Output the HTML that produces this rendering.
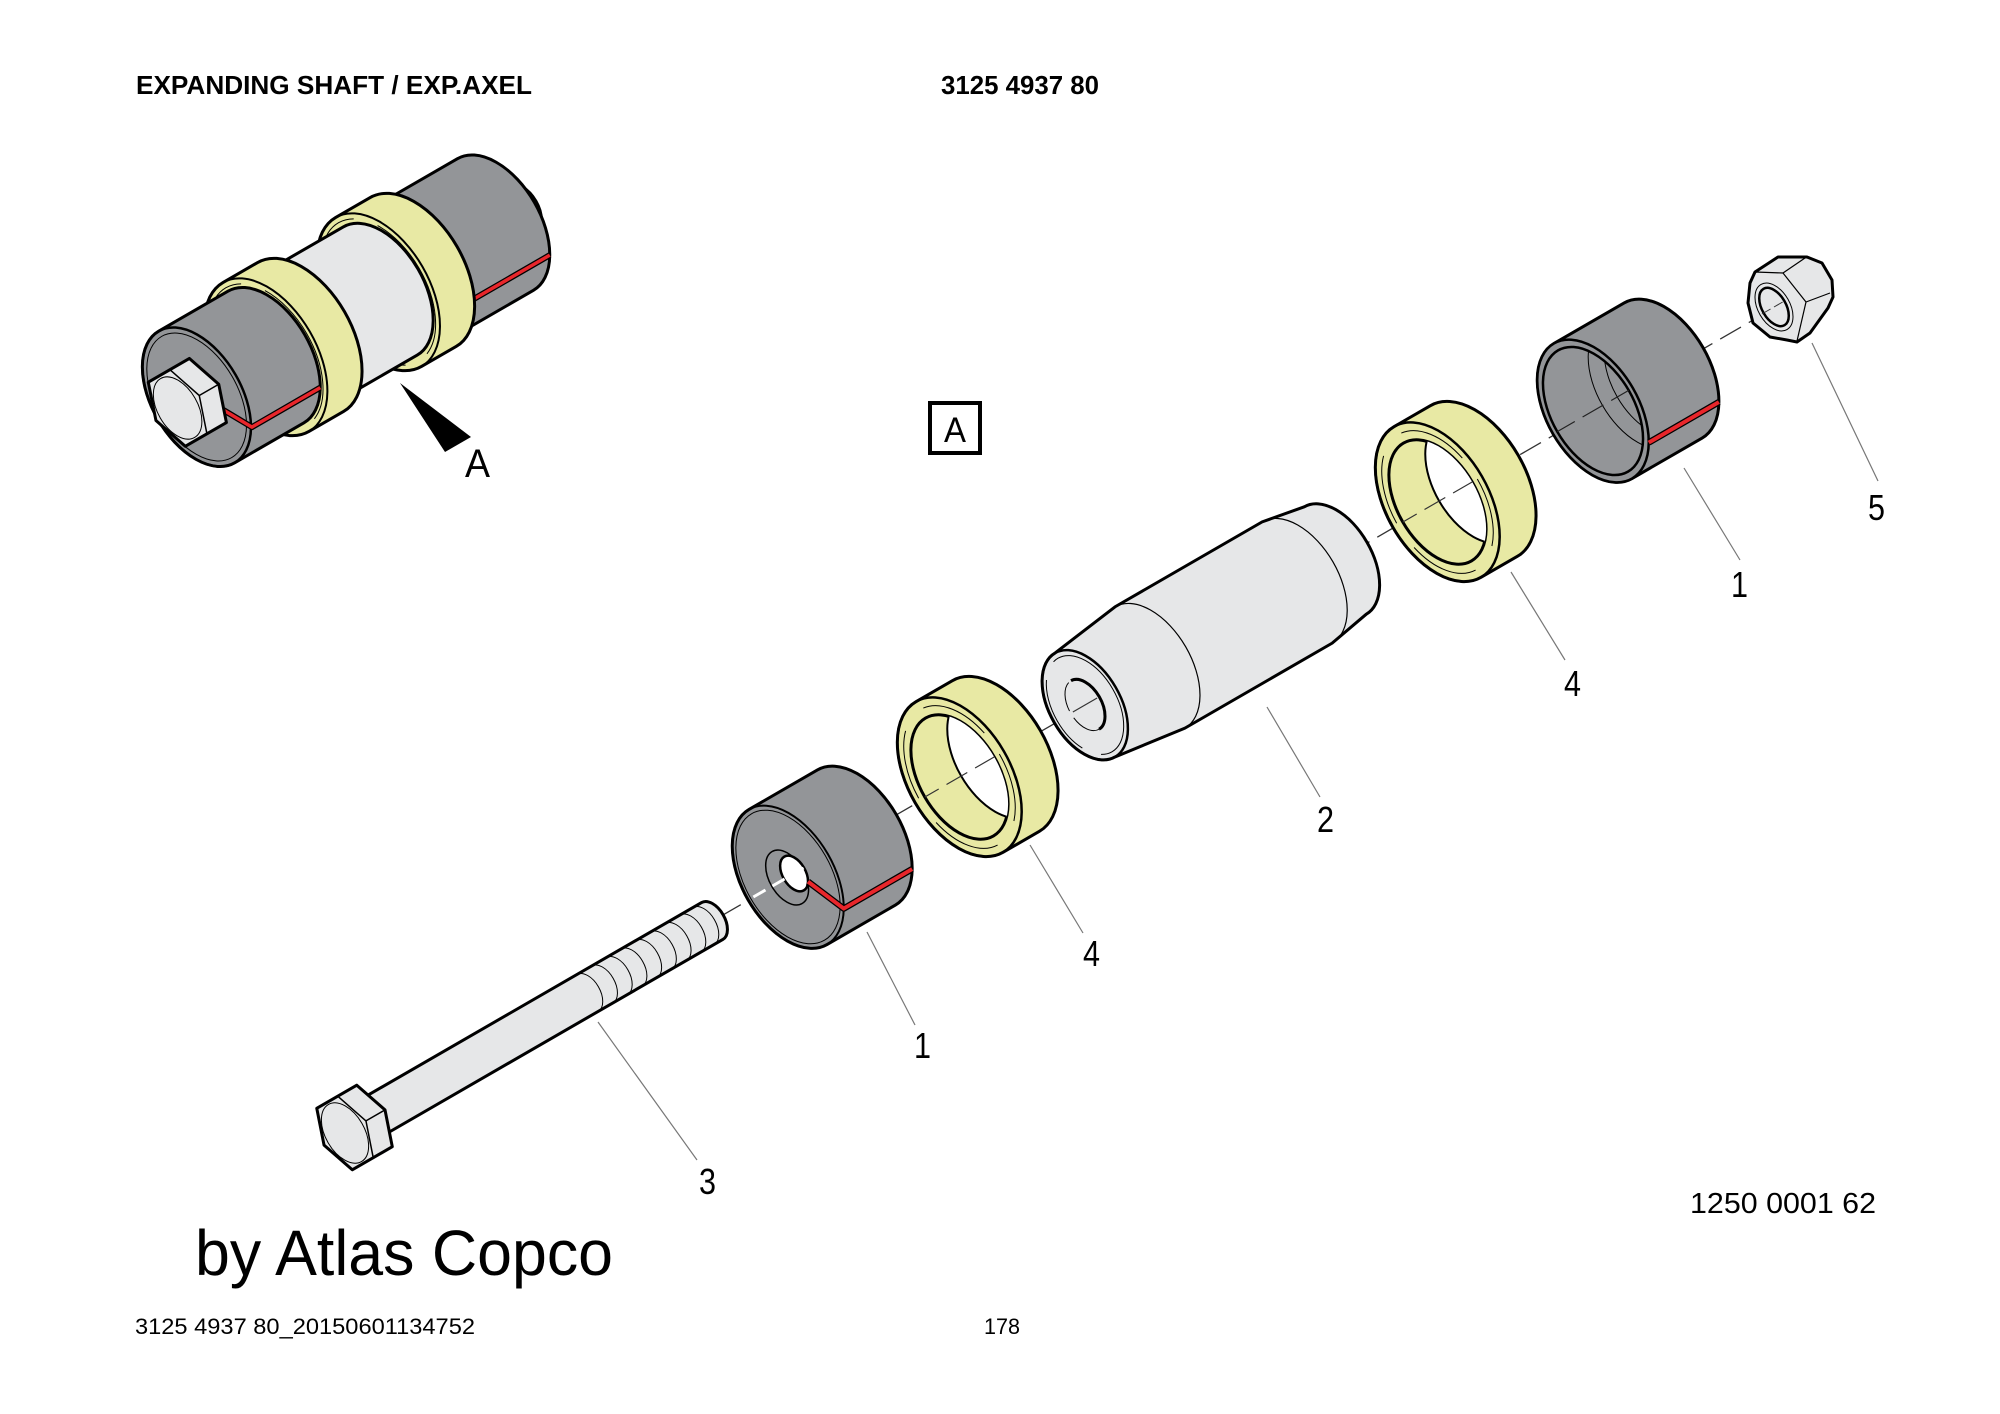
<!DOCTYPE html>
<html><head><meta charset="utf-8"><style>
html,body{margin:0;padding:0;background:#fff;}
svg{display:block;}
text{font-family:"Liberation Sans",Arial,sans-serif;fill:#000;}
</style></head><body>
<svg width="2000" height="1414" viewBox="0 0 2000 1414" xmlns="http://www.w3.org/2000/svg">
<defs>
<clipPath id="yh"><ellipse cx="0" cy="0" rx="40.1" ry="68"/></clipPath>
<clipPath id="sh"><ellipse cx="0" cy="0" rx="41.3" ry="70"/></clipPath>
</defs>
<rect width="2000" height="1414" fill="#fff"/>

<!-- header -->
<text x="136" y="94" font-size="26" font-weight="bold" textLength="396" lengthAdjust="spacingAndGlyphs">EXPANDING SHAFT / EXP.AXEL</text>
<text x="941" y="94" font-size="26" font-weight="bold" textLength="158" lengthAdjust="spacingAndGlyphs">3125 4937 80</text>

<!-- box A -->
<rect x="930" y="403" width="50" height="50" fill="none" stroke="#000" stroke-width="4"/>
<text x="944" y="442" font-size="35" textLength="22" lengthAdjust="spacingAndGlyphs">A</text>

<!-- ============ TOP-LEFT ASSEMBLY ============ -->
<g transform="translate(188,402) rotate(-30)" stroke="#000" stroke-linejoin="round">
  <!-- nut stub -->
  <path d="M350,-27 L386,-27 A16,27 0 0 1 386,27 L350,27 Z" fill="#e6e7e8" stroke-width="2.5"/>
  <path d="M372,-27 A16,27 0 0 1 372,27" fill="none" stroke-width="1"/>
  <!-- gray 2 -->
  <path d="M250,-76 L355,-76 A44.8,76 0 0 1 355,76 L250,76 Z" fill="#939598" stroke-width="3"/>
  <path d="M281.7,53.7 L386.7,53.7" stroke="#000" stroke-width="6" fill="none"/>
  <path d="M281.7,53.7 L386.7,53.7" stroke="#e8262b" stroke-width="3.5" fill="none"/>
  <!-- yellow 2 -->
  <path d="M220,-86 L260,-86 A50.7,86 0 0 1 260,86 L220,86 A50.7,86 0 0 1 220,-86 Z" fill="#e8e9a4" stroke-width="3"/>
  <ellipse cx="220" cy="0" rx="50.7" ry="86" fill="none" stroke-width="2"/>
  <ellipse cx="220" cy="0" rx="47" ry="80" fill="none" stroke-width="1" stroke-dasharray="90 25"/>
  <!-- white middle -->
  <path d="M120,-74 L222,-74 A43.7,74 0 0 1 222,74 L120,74 Z" fill="#e6e7e8" stroke-width="3"/>
  <!-- yellow 1 -->
  <path d="M90,-86 L130,-86 A50.7,86 0 0 1 130,86 L90,86 A50.7,86 0 0 1 90,-86 Z" fill="#e8e9a4" stroke-width="3"/>
  <ellipse cx="90" cy="0" rx="50.7" ry="86" fill="none" stroke-width="2"/>
  <ellipse cx="90" cy="0" rx="47" ry="80" fill="none" stroke-width="1" stroke-dasharray="90 25"/>
  <!-- gray 1 -->
  <path d="M10,-76 L90,-76 A44.8,76 0 0 1 90,76 L10,76 A44.8,76 0 0 1 10,-76 Z" fill="#939598" stroke-width="3"/>
  <ellipse cx="10" cy="0" rx="44.8" ry="76" fill="none" stroke-width="2.5"/>
  <ellipse cx="10" cy="0" rx="41" ry="70" fill="none" stroke-width="1"/>
  <path d="M26.6,24.6 L42.8,53.7 L121.7,53.7" stroke="#000" stroke-width="6" fill="none"/>
  <path d="M26.6,24.6 L42.8,53.7 L121.7,53.7" stroke="#e8262b" stroke-width="3.5" fill="none"/>
  <!-- bolt head -->
  <g transform="translate(-12,0)">
    <polygon points="-25,0 -12.5,-37 35,-37 47.5,0 35,37 -12.5,37" fill="#e6e7e8" stroke-width="3"/>
    <polygon points="25,0 12.5,37 -12.5,37 -25,0 -12.5,-37 12.5,-37" fill="none" stroke-width="1.5"/>
    <path d="M25,0 L47.5,0" stroke-width="1.5"/>
    <ellipse cx="0" cy="0" rx="20" ry="34" fill="none" stroke-width="1"/>
  </g>
</g>
<!-- arrow A -->
<polygon points="400,383 445,452 471,437" fill="#000"/>
<text x="465" y="477" font-size="40" textLength="25" lengthAdjust="spacingAndGlyphs">A</text>

<!-- ============ EXPLODED VIEW ============ -->
<!-- axis dashed -->
<path d="M720,916.7 L1800,293" stroke="#333" stroke-width="1.3" stroke-dasharray="24 9" fill="none"/>

<!-- nut 5 -->
<g stroke="#000" stroke-linejoin="round">
  <polygon points="1748,303 1750,283 1755,272 1778,257 1807,257 1822,263 1832,280 1833,297 1828,308 1810,333 1797,342 1787,340 1770,337 1753,323" fill="#e6e7e8" stroke-width="3"/>
  <polyline points="1755,272 1783,273 1806,302 1797,341" fill="none" stroke-width="1.2"/>
  <path d="M1783,273 L1805,258 M1806,302 L1830,293" fill="none" stroke-width="1.2"/>
  <g transform="translate(1774,307) rotate(-30)">
    <ellipse cx="0" cy="0" rx="16" ry="26" fill="none" stroke-width="1"/>
    <ellipse cx="0" cy="0" rx="12" ry="21" fill="#e6e7e8" stroke-width="2.5"/>
    <path d="M-14,0 L14,0" stroke="#333" stroke-width="1" stroke-dasharray="10 4"/>
  </g>
</g>

<!-- sleeve 1 (upper) -->
<g transform="translate(1593,411) rotate(-30)" stroke="#000" stroke-linejoin="round">
  <path d="M0,-78 L81,-78 A46,78 0 0 1 81,78 L0,78 A46,78 0 0 1 0,-78 Z" fill="#939598" stroke-width="3"/>
  <ellipse cx="0" cy="0" rx="46" ry="78" fill="#939598" stroke-width="2.5"/>
  <ellipse cx="0" cy="0" rx="41.3" ry="70" fill="#939598" stroke-width="2.5"/>
  <g clip-path="url(#sh)">
    <ellipse cx="52" cy="0" rx="41" ry="70" fill="none" stroke-width="1"/>
    <ellipse cx="66" cy="0" rx="38" ry="64" fill="none" stroke-width="1"/>
    <path d="M-45,0 L120,0" stroke="#222" stroke-width="1.2" stroke-dasharray="24 9"/>
  </g>
  <path d="M32.5,55.2 L113.5,55.2" stroke="#000" stroke-width="6.5" fill="none"/>
  <path d="M32.5,55.2 L113.5,55.2" stroke="#e8262b" stroke-width="4" fill="none"/>
</g>

<!-- yellow ring 4 (upper) -->
<g transform="translate(1437.5,502) rotate(-30)" stroke="#000" stroke-linejoin="round">
  <path d="M0,-87 L42,-87 A51.3,87 0 0 1 42,87 L0,87 A51.3,87 0 0 1 0,-87 Z" fill="#e8e9a4" stroke-width="3"/>
  <ellipse cx="0" cy="0" rx="51.3" ry="87" fill="none" stroke-width="2.5"/>
  <ellipse cx="0" cy="0" rx="46" ry="78" fill="none" stroke-width="1" stroke-dasharray="70 30"/>
  <ellipse cx="0" cy="0" rx="40.1" ry="68" fill="#e8e9a4" stroke-width="3"/>
  <ellipse cx="42" cy="0" rx="40.1" ry="68" fill="#fff" stroke-width="2" clip-path="url(#yh)"/>
  <path d="M-48,0 L84,0" stroke="#333" stroke-width="1.2" stroke-dasharray="24 9" clip-path="url(#yh)"/>
</g>

<!-- cylinder 2 -->
<g transform="translate(1085,705) rotate(-30)" stroke="#000" stroke-linejoin="round">
  <path d="M0,-60 L75,-70 L245,-70 L289,-62 A36.6,62 0 0 1 289,62 L245,70 L75,70 L0,60 A35.4,60 0 0 1 0,-60 Z" fill="#e6e7e8" stroke-width="3"/>
  <ellipse cx="0" cy="0" rx="35.4" ry="60" fill="none" stroke-width="2.5"/>
  <ellipse cx="0" cy="0" rx="32" ry="54" fill="none" stroke-width="1" stroke-dasharray="80 20"/>
  <path d="M75,-70 A41.3,70 0 0 1 75,70" fill="none" stroke-width="1.2"/>
  <path d="M245,-70 A41.3,70 0 0 1 245,70" fill="none" stroke-width="1.2"/>
  <path d="M0,-28 A16.5,28 0 0 1 0,28" fill="none" stroke-width="3"/>
  <path d="M0,28 A16.5,28 0 0 1 0,-28" fill="none" stroke-width="1" stroke-dasharray="30 8"/>
  <path d="M-14,0 L14,0" stroke="#333" stroke-width="1.2"/>
</g>

<!-- yellow ring 4 (lower) -->
<g transform="translate(959.5,777) rotate(-30)" stroke="#000" stroke-linejoin="round">
  <path d="M0,-87 L42,-87 A51.3,87 0 0 1 42,87 L0,87 A51.3,87 0 0 1 0,-87 Z" fill="#e8e9a4" stroke-width="3"/>
  <ellipse cx="0" cy="0" rx="51.3" ry="87" fill="none" stroke-width="2.5"/>
  <ellipse cx="0" cy="0" rx="46" ry="78" fill="none" stroke-width="1" stroke-dasharray="70 30"/>
  <ellipse cx="0" cy="0" rx="40.1" ry="68" fill="#e8e9a4" stroke-width="3"/>
  <ellipse cx="42" cy="0" rx="40.1" ry="68" fill="#fff" stroke-width="2" clip-path="url(#yh)"/>
  <path d="M-48,0 L84,0" stroke="#333" stroke-width="1.2" stroke-dasharray="24 9" clip-path="url(#yh)"/>
</g>

<!-- gray ring 1 (lower) -->
<g transform="translate(788,877) rotate(-30)" stroke="#000" stroke-linejoin="round">
  <path d="M0,-78 L79,-78 A46,78 0 0 1 79,78 L0,78 A46,78 0 0 1 0,-78 Z" fill="#939598" stroke-width="3"/>
  <ellipse cx="0" cy="0" rx="46" ry="78" fill="none" stroke-width="2"/>
  <ellipse cx="0" cy="0" rx="43" ry="73" fill="none" stroke-width="1"/>
  <ellipse cx="-1" cy="0" rx="17.7" ry="30" fill="#939598" stroke-width="1.5"/>
  <ellipse cx="7" cy="0" rx="11.5" ry="19.5" fill="#fff" stroke-width="2.5"/>
  <path d="M-40,0 L18,0" stroke="#fff" stroke-width="3" stroke-dasharray="14 8"/>
  <path d="M15,14 L32.5,55.2 L111.5,55.2" stroke="#000" stroke-width="6.5" fill="none"/>
  <path d="M15,14 L32.5,55.2 L111.5,55.2" stroke="#e8262b" stroke-width="4" fill="none"/>
</g>

<!-- bolt 3 -->
<g transform="translate(345,1133) rotate(-30)" stroke="#000" stroke-linejoin="round">
  <path d="M18,-21.3 L424,-21.3 A12.6,21.3 0 0 1 424,21.3 L18,21.3 Z" fill="#e6e7e8" stroke-width="3"/>
  <g fill="none" stroke-width="1">
    <path d="M280,-21.3 A12.6,21.3 0 0 1 280,21.3"/>
    <path d="M297,-21.3 A12.6,21.3 0 0 1 297,21.3"/>
    <path d="M314,-21.3 A12.6,21.3 0 0 1 314,21.3"/>
    <path d="M331,-21.3 A12.6,21.3 0 0 1 331,21.3"/>
    <path d="M348,-21.3 A12.6,21.3 0 0 1 348,21.3"/>
    <path d="M365,-21.3 A12.6,21.3 0 0 1 365,21.3"/>
    <path d="M382,-21.3 A12.6,21.3 0 0 1 382,21.3"/>
    <path d="M399,-21.3 A12.6,21.3 0 0 1 399,21.3"/>
    <path d="M414,-21.3 A12.6,21.3 0 0 1 414,21.3"/>
  </g>
  <polygon points="-24.2,0 -12.1,-35.5 34.1,-35.5 46.2,0 34.1,35.5 -12.1,35.5" fill="#e6e7e8" stroke-width="3"/>
  <polygon points="24.2,0 12.1,35.5 -12.1,35.5 -24.2,0 -12.1,-35.5 12.1,-35.5" fill="none" stroke-width="1.5"/>
  <path d="M24.2,0 L46.2,0" stroke-width="1.5"/>
  <ellipse cx="0" cy="0" rx="19.5" ry="33" fill="none" stroke-width="1"/>
</g>

<!-- leader lines -->
<g stroke="#777" stroke-width="1.2" fill="none">
  <path d="M1812,343 L1878,481"/>
  <path d="M1684,468 L1740,560"/>
  <path d="M1511,572 L1565,660"/>
  <path d="M1267,707 L1320,797"/>
  <path d="M1030,845 L1083,933"/>
  <path d="M867,932 L915,1025"/>
  <path d="M598,1022 L697,1160"/>
</g>

<!-- labels -->
<g font-size="36">
  <text x="1868" y="520" textLength="17" lengthAdjust="spacingAndGlyphs">5</text>
  <text x="1731" y="597" textLength="17" lengthAdjust="spacingAndGlyphs">1</text>
  <text x="1564" y="696" textLength="17" lengthAdjust="spacingAndGlyphs">4</text>
  <text x="1317" y="832" textLength="17" lengthAdjust="spacingAndGlyphs">2</text>
  <text x="1083" y="966" textLength="17" lengthAdjust="spacingAndGlyphs">4</text>
  <text x="914" y="1058" textLength="17" lengthAdjust="spacingAndGlyphs">1</text>
  <text x="699" y="1194" textLength="17" lengthAdjust="spacingAndGlyphs">3</text>
</g>

<text x="1690" y="1213" font-size="29" textLength="186" lengthAdjust="spacingAndGlyphs">1250 0001 62</text>

<!-- footer -->
<text x="195" y="1275" font-size="64" textLength="418" lengthAdjust="spacingAndGlyphs">by Atlas Copco</text>
<text x="135" y="1334" font-size="22" textLength="340" lengthAdjust="spacingAndGlyphs">3125 4937 80_20150601134752</text>
<text x="984" y="1334" font-size="22" textLength="36" lengthAdjust="spacingAndGlyphs">178</text>
</svg>
</body></html>
